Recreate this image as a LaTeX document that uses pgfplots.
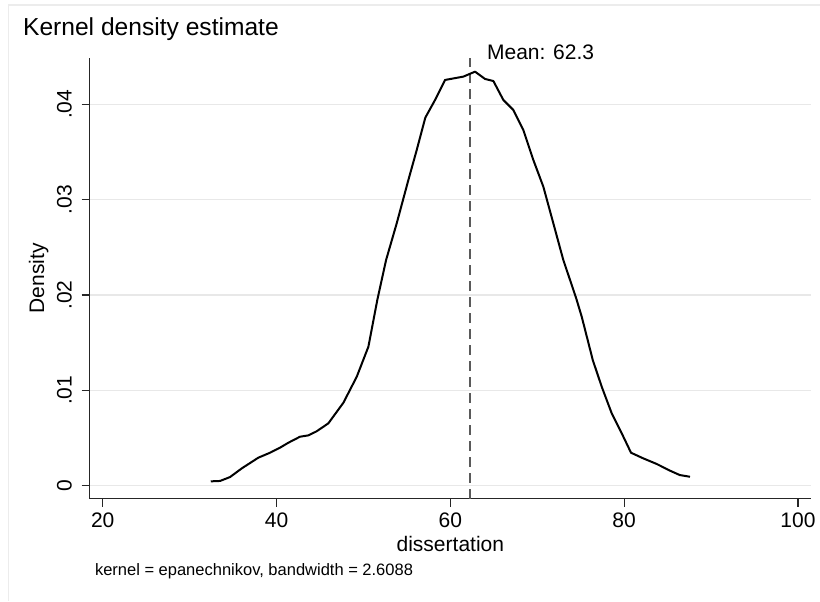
\documentclass[border=0pt]{standalone}
\usepackage{pgfplots}
\pgfplotsset{compat=1.18}
\usepackage{fontspec}
\setmainfont{Liberation Sans}
\definecolor{gridc}{RGB}{232,232,232}
\definecolor{meanc}{RGB}{90,90,90}
\definecolor{framec}{RGB}{236,236,236}
\begin{document}
\begin{tikzpicture}[x=0.5pt,y=0.5pt]
\useasboundingbox (0,0) rectangle (820,601);
\fill[white] (0,0) rectangle (820,601);
\draw[framec, line width=0.6pt] (8.3,0) -- (8.3,596) -- (820,596);
\node[anchor=base west, inner sep=0, font=\fontsize{12.3}{14}\selectfont] at (22.7,565) {Kernel density estimate};
\begin{axis}[
  at={(44.85pt,51.15pt)}, anchor=south west,
  scale only axis, width=360.65pt, height=220.2pt,
  xmin=18.5, xmax=101.5, ymin=-0.00136, ymax=0.04482,
  axis x line*=bottom, axis y line*=left,
  axis line style={black!85, line width=0.65pt},
  tick align=outside, major tick length=4pt,
  tick style={black!85, line width=0.6pt},
  xtick={20,40,60,80,100}, xticklabels={20,40,60,80,100},
  ytick={0,0.01,0.02,0.03,0.04}, yticklabels={0,.01,.02,.03,.04},
  scaled y ticks=false,
  ymajorgrids, grid style={gridc, line width=0.75pt},
  tick label style={font=\fontsize{10.5}{12}\selectfont},
  xticklabel style={anchor=base, inner sep=0pt, yshift=-10.15pt},
  yticklabel style={xshift=-5pt, rotate=90, anchor=base, inner sep=0pt},
  clip=false,
]
\addplot[meanc, line width=0.85pt, dash pattern=on 5pt off 3pt] coordinates {(62.3,-0.00136) (62.3,0.04482)};
\addplot[black, line width=1pt, line join=round] coordinates {
(32.43,0.00046) (33.5,0.0005) (34.65,0.00091) (36.0,0.00182) (37.9,0.00294)
(39.25,0.00346) (40.4,0.00399) (41.36,0.00451) (42.7,0.00514) (43.66,0.00528)
(44.6,0.0057) (45.96,0.00654) (47.69,0.0087) (49.23,0.01143) (50.57,0.01458)
(51.6,0.0195) (52.6,0.02365) (53.83,0.02752) (55.17,0.03206) (56.13,0.0352)
(57.12,0.0386) (58.24,0.04045) (59.39,0.04255) (61.5,0.0429) (62.84,0.04342)
(64.0,0.04265) (64.95,0.04244) (66.1,0.04045) (67.25,0.0394) (68.4,0.0373)
(69.55,0.03416) (70.7,0.03136) (71.85,0.02752) (73.0,0.02367) (74.46,0.01972)
(75.12,0.01772) (76.39,0.01318) (77.42,0.01038) (78.57,0.00759) (79.72,0.0055)
(80.79,0.00346) (82.2,0.00287) (83.75,0.00228) (85.3,0.00157) (86.4,0.00112)
(87.58,0.00094)};
\end{axis}
\node[anchor=base west, inner sep=0, font=\fontsize{10.5}{12}\selectfont] at (486.7,541.7) {Mean: 62.3};
\node[anchor=base, inner sep=0, rotate=90, font=\fontsize{10.5}{12}\selectfont] at (44,322.5) {Density};
\node[anchor=base, inner sep=0, font=\fontsize{10.5}{12}\selectfont] at (450.35,50) {dissertation};
\node[anchor=base west, inner sep=0, font=\fontsize{8.25}{10}\selectfont] at (94.6,26) {kernel = epanechnikov, bandwidth = 2.6088};
\end{tikzpicture}
\end{document}
